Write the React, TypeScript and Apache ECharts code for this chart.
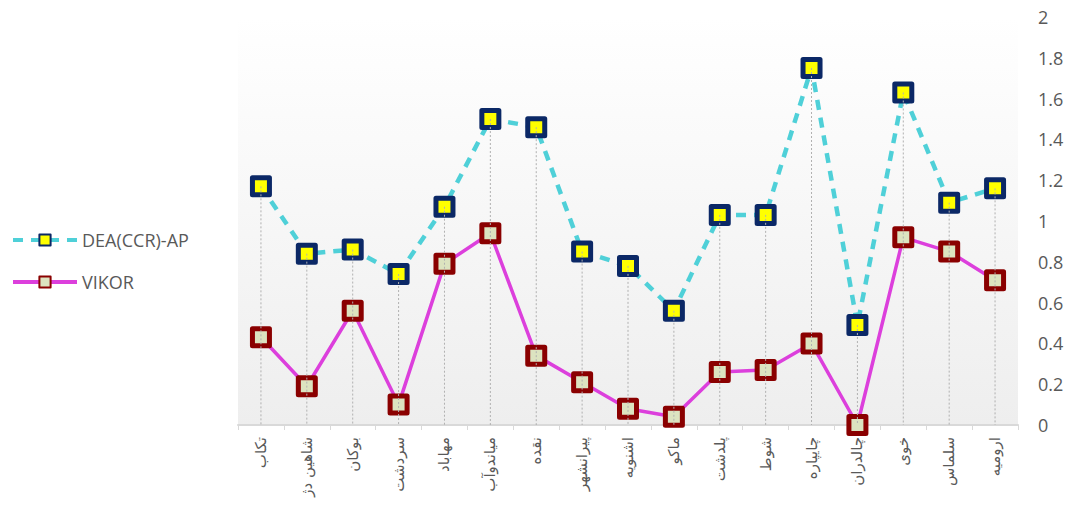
import React, { useEffect, useRef } from "react";
import * as echarts from "echarts";

const categories = [
  "تکاب", "شاهین دژ", "بوکان", "سردشت", "مهاباد", "میاندوآب", "نقده", "پیرانشهر",
  "اشنویه", "ماکو", "پلدشت", "شوط", "چایپاره", "چالدران", "خوی", "سلماس", "ارومیه",
];
const deaValues = [1.17, 0.84, 0.86, 0.74, 1.07, 1.5, 1.46, 0.85, 0.78, 0.56, 1.03, 1.03, 1.75, 0.49, 1.63, 1.09, 1.16];
const vikorValues = [0.43, 0.19, 0.56, 0.1, 0.79, 0.94, 0.34, 0.21, 0.08, 0.04, 0.26, 0.27, 0.4, 0, 0.92, 0.85, 0.71];

export default function App() {
  const ref = useRef<HTMLDivElement>(null);
  useEffect(() => {
    if (!ref.current) return;
    const chart = echarts.init(ref.current, null, { renderer: "svg" });
    const dropData = categories.map((_, i) => [i, Math.max(deaValues[i], vikorValues[i])]);
    chart.setOption({
      animation: false,
      textStyle: { fontFamily: "'Open Sans', 'DejaVu Sans', sans-serif" },
      legend: {
        orient: "vertical",
        left: 6,
        top: 226,
        itemWidth: 64,
        itemHeight: 14,
        itemGap: 24,
        textStyle: { color: "#595959", fontSize: 18, fontFamily: "'Open Sans', sans-serif" },
        data: [
          { name: "DEA(CCR)-AP", lineStyle: { width: 4 } },
          { name: "VIKOR", lineStyle: { width: 4 } },
        ],
      },
      grid: {
        left: 238,
        right: 55,
        top: 17,
        bottom: 88,
        show: true,
        borderWidth: 0,
        backgroundColor: new echarts.graphic.LinearGradient(0, 0, 0, 1, [
          { offset: 0, color: "#ffffff" },
          { offset: 1, color: "#eeeeee" },
        ]),
      },
      xAxis: {
        type: "category",
        data: categories,
        boundaryGap: true,
        axisLine: { lineStyle: { color: "#d9d9d9", width: 2 } },
        axisTick: { show: true, length: 5, lineStyle: { color: "#d9d9d9" } },
        axisLabel: {
          rotate: 90,
          color: "#595959",
          fontSize: 15,
          margin: 12,
          interval: 0,
          fontFamily: "'DejaVu Sans', sans-serif",
        },
      },
      yAxis: {
        type: "value",
        position: "right",
        min: 0,
        max: 2,
        interval: 0.2,
        axisLine: { show: false },
        axisTick: { show: false },
        splitLine: { show: false },
        axisLabel: { color: "#595959", fontSize: 18, margin: 20, fontFamily: "'Open Sans', sans-serif" },
      },
      series: [
        {
          name: "DEA(CCR)-AP",
          type: "line",
          z: 3,
          data: deaValues,
          symbol: "rect",
          symbolSize: 17,
          lineStyle: { color: "#4fd0d8", width: 4.5, type: [10, 8] },
          itemStyle: { color: "#ffff00", borderColor: "#0b2866", borderWidth: 5, borderJoin: "round" },
        },
        {
          name: "VIKOR",
          type: "line",
          z: 2,
          data: vikorValues,
          symbol: "rect",
          symbolSize: 17,
          lineStyle: { color: "#dc3fdc", width: 3.5 },
          itemStyle: { color: "#dce3c0", borderColor: "#8a0000", borderWidth: 5, borderJoin: "round" },
        },
        {
          type: "custom",
          silent: true,
          z: 5,
          data: dropData,
          renderItem: (params: any, api: any) => {
            const top = api.coord([api.value(0), api.value(1)]);
            const bottom = api.coord([api.value(0), 0]);
            return {
              type: "line",
              shape: { x1: top[0], y1: top[1], x2: bottom[0], y2: bottom[1] },
              style: { stroke: "#b0b0b0", lineWidth: 1, lineDash: [2, 2] },
            };
          },
        },
      ],
    });
    return () => chart.dispose();
  }, []);
  return <div ref={ref} style={{ width: 1073, height: 513, position: "absolute", left: 0, top: 0 }} />;
}
